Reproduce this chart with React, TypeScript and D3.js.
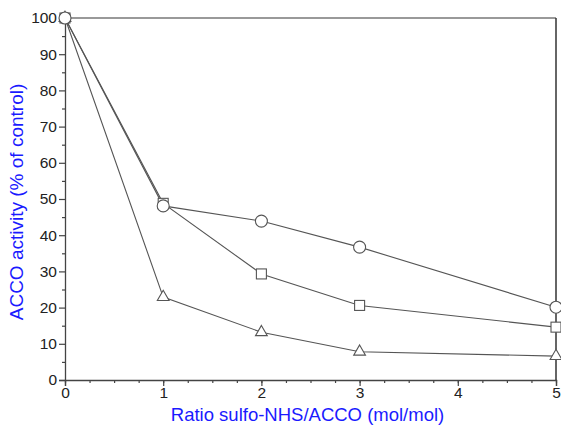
import * as d3 from "d3";
import {useEffect, useRef} from "react";

// ratio sulfo-NHS/ACCO
const ratios = [0, 1, 2, 3, 5];
// activity (% of control) for each series
const circleSeries = [100, 48.1, 43.9, 36.7, 20.1];
const squareSeries = [100, 48.8, 29.3, 20.6, 14.6];
const triangleSeries = [100, 22.9, 13.2, 7.8, 6.6];

const xTicks = [0, 1, 2, 3, 4, 5];
const yTicks = [0, 10, 20, 30, 40, 50, 60, 70, 80, 90, 100];

const xTitle = "Ratio sulfo-NHS/ACCO (mol/mol)";
const yTitle = "ACCO activity (% of control)";

const App = () => {
    const ref = useRef<SVGSVGElement>(null);

    const width = 561, height = 427;
    const margin = {top: 18, right: 5, bottom: 47, left: 65};

    useEffect(() => {
        const svg = d3.select(ref.current);
        svg.selectAll("*").remove();

        const x = d3.scaleLinear().domain([0, 5]).range([margin.left, width - margin.right]);
        const y = d3.scaleLinear().domain([0, 100]).range([height - margin.bottom, margin.top]);

        const axisColor = "#444";
        const font = "'Liberation Sans', Arial, sans-serif";

        // x axis
        const xAxis = svg.append("g").attr("transform", `translate(0,${y(0)})`);
        xAxis.call(d3.axisBottom(x).tickValues(d3.range(0, 5.01, 0.25)).tickSize(3).tickFormat(() => ""));
        xAxis.call(g => g.select(".domain").remove());
        const xMaj = svg.append("g").attr("transform", `translate(0,${y(0)})`)
            .call(d3.axisBottom(x).tickValues(xTicks).tickSize(6).tickPadding(1).tickFormat(d3.format("d")));
        xMaj.select(".domain").attr("stroke", axisColor).attr("stroke-width", 1.3);

        // y axis
        const yAxis = svg.append("g").attr("transform", `translate(${x(0)},0)`);
        yAxis.call(d3.axisLeft(y).tickValues(d3.range(5, 100, 10)).tickSize(3).tickFormat(() => ""));
        yAxis.call(g => g.select(".domain").remove());
        const yMaj = svg.append("g").attr("transform", `translate(${x(0)},0)`)
            .call(d3.axisLeft(y).tickValues(yTicks).tickSize(6).tickPadding(2).tickFormat(d3.format("d")));
        yMaj.select(".domain").attr("stroke", axisColor).attr("stroke-width", 1.3);

        svg.selectAll(".tick line").attr("stroke", axisColor).attr("stroke-width", 1.2);
        svg.selectAll(".tick text").attr("fill", "#222").attr("font-size", 15.5).attr("font-family", font);

        // frame top and right
        svg.append("line")
            .attr("x1", x(0)).attr("x2", x(5)).attr("y1", y(100)).attr("y2", y(100))
            .attr("stroke", "#777").attr("stroke-width", 1.3);
        svg.append("line")
            .attr("x1", x(5)).attr("x2", x(5)).attr("y1", y(100)).attr("y2", y(0))
            .attr("stroke", "#333").attr("stroke-width", 1.5);

        const line = d3.line<[number, number]>().x(d => x(d[0])).y(d => y(d[1]));
        const lineColor = "#555";

        const series = [
            {values: triangleSeries, shape: "triangle"},
            {values: squareSeries, shape: "square"},
            {values: circleSeries, shape: "circle"},
        ];

        series.forEach(s => {
            const pts: [number, number][] = ratios.map((r, i) => [r, s.values[i]]);
            svg.append("path")
                .attr("d", line(pts))
                .attr("fill", "none")
                .attr("stroke", lineColor)
                .attr("stroke-width", 1.1);
        });

        series.forEach(s => {
            const pts: [number, number][] = ratios.map((r, i) => [r, s.values[i]]);
            const g = svg.append("g");
            pts.forEach(p => {
                const cx = x(p[0]), cy = y(p[1]);
                if (s.shape === "circle") {
                    g.append("circle").attr("cx", cx).attr("cy", cy).attr("r", 6)
                        .attr("fill", "white").attr("stroke", lineColor).attr("stroke-width", 1.1);
                } else if (s.shape === "square") {
                    g.append("rect").attr("x", cx - 5).attr("y", cy - 5).attr("width", 10).attr("height", 10)
                        .attr("fill", "white").attr("stroke", lineColor).attr("stroke-width", 1.1);
                } else {
                    const sym = d3.symbol().type(d3.symbolTriangle).size(60);
                    g.append("path").attr("d", sym()).attr("transform", `translate(${cx},${cy})`)
                        .attr("fill", "white").attr("stroke", lineColor).attr("stroke-width", 1.1);
                }
            });
        });

        // titles
        svg.append("text")
            .attr("x", (x(0) + x(5)) / 2 - 3).attr("y", height - 6)
            .attr("text-anchor", "middle")
            .attr("fill", "#1a1aff").attr("font-size", 18.5).attr("font-family", font)
            .text(xTitle);
        svg.append("text")
            .attr("transform", `translate(23,${(y(0) + y(100)) / 2 + 3}) rotate(-90)`)
            .attr("text-anchor", "middle")
            .attr("fill", "#1a1aff").attr("font-size", 19).attr("font-family", font)
            .text(yTitle);
    }, []);

    return (
        <svg ref={ref} width={width} height={height}
             style={{position: "absolute", left: 0, top: 0, background: "white"}}/>
    );
}

export default App
